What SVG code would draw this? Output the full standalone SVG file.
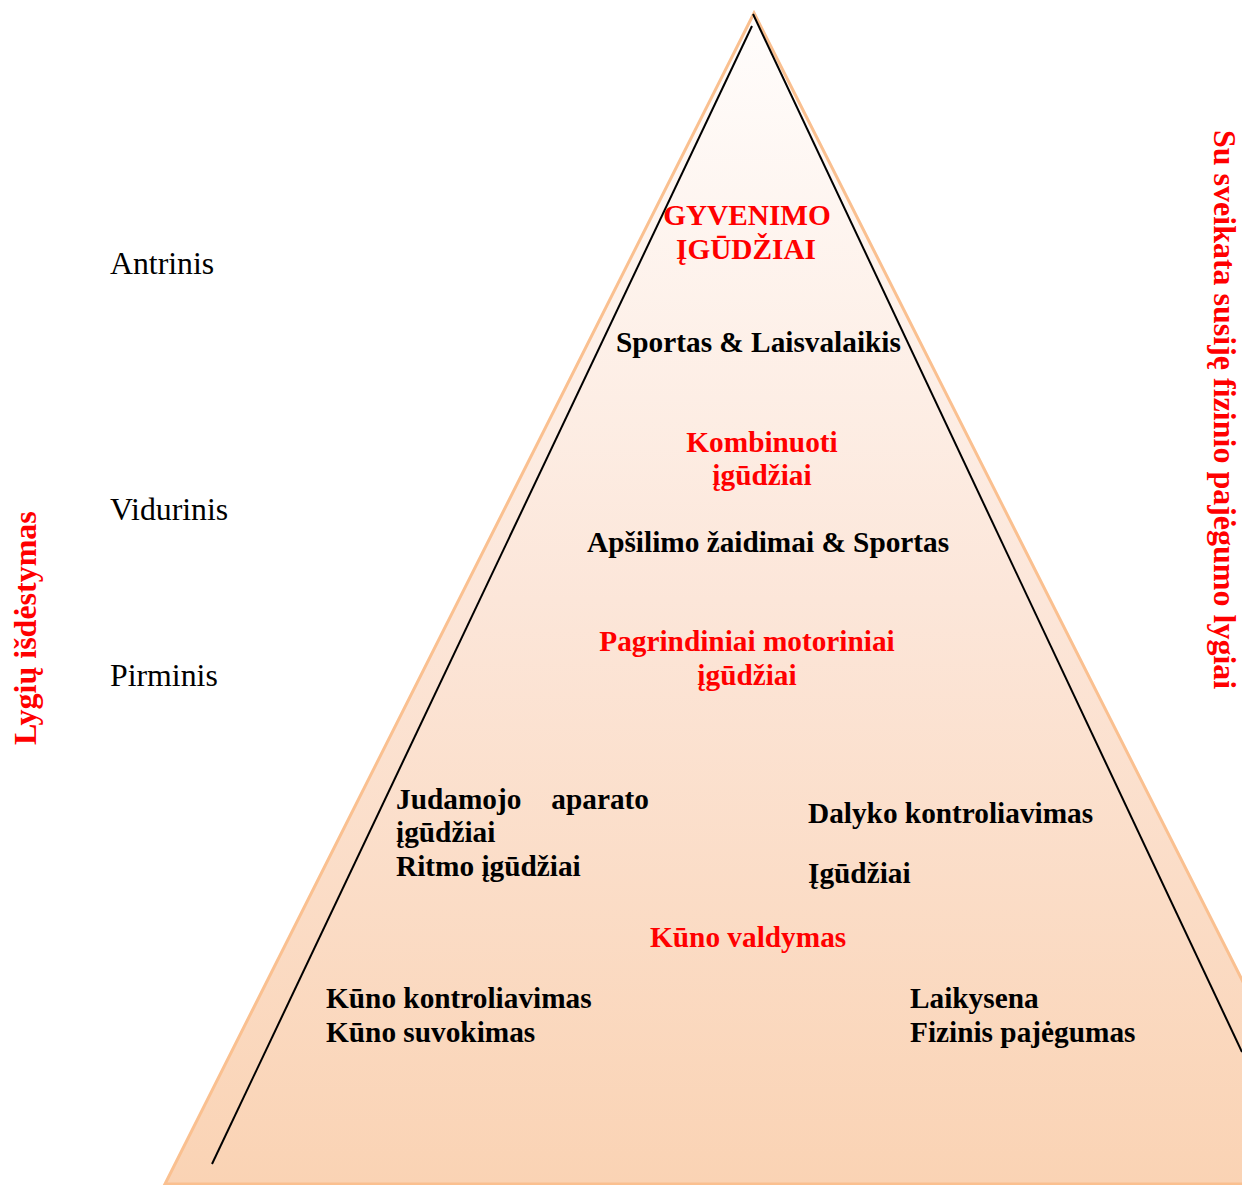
<svg xmlns="http://www.w3.org/2000/svg" width="1242" height="1185" viewBox="0 0 1242 1185">
<defs>
<linearGradient id="fillG" x1="0" y1="14" x2="0" y2="1185" gradientUnits="userSpaceOnUse">
<stop offset="0" stop-color="#FFFDFC"/>
<stop offset="0.5" stop-color="#FCE6D9"/>
<stop offset="1" stop-color="#FAD3B4"/>
</linearGradient>
<style>
.b{font-family:"Liberation Serif","Times New Roman",serif;font-weight:bold;font-size:29.3px;fill:#000}
.r{font-family:"Liberation Serif","Times New Roman",serif;font-weight:bold;font-size:29.3px;fill:#FF0000}
.n{font-family:"Liberation Serif","Times New Roman",serif;font-size:31.8px;fill:#000}
.v{font-family:"Liberation Serif","Times New Roman",serif;font-weight:bold;font-size:32px;fill:#FF0000}
.m{text-anchor:middle}
.ln{stroke:#000;stroke-width:2;fill:none}
</style>
</defs>
<rect width="1242" height="1185" fill="#FFFFFF"/>
<g id="pyramid">
<polygon points="754,13 1345,1184 165,1184" fill="url(#fillG)" stroke="#FAC090" stroke-width="3"/>
</g>
<g id="connectors">
<line class="ln" x1="752" y1="26" x2="212" y2="1164"/>
<line class="ln" x1="753" y1="14" x2="1242" y2="1052"/>
</g>
<g id="level-labels">
<text class="n" x="110" y="274">Antrinis</text>
<text class="n" x="110" y="520">Vidurinis</text>
<text class="n" x="110" y="686">Pirminis</text>
</g>
<g id="axis-left">
<text class="v" transform="translate(36,745) rotate(-90)">Lygių išdėstymas</text>
</g>
<g id="axis-right">
<text class="v" transform="translate(1214,130) rotate(90)">Su sveikata susiję fizinio pajėgumo lygiai</text>
</g>
<g id="node-gyvenimo">
<text class="r m" x="747" y="225">GYVENIMO</text>
<text class="r m" x="746" y="259">ĮGŪDŽIAI</text>
</g>
<g id="node-sportas">
<text class="b" x="616" y="352">Sportas &amp; Laisvalaikis</text>
</g>
<g id="node-kombinuoti">
<text class="r m" x="762" y="452">Kombinuoti</text>
<text class="r m" x="762" y="485">įgūdžiai</text>
</g>
<g id="node-apsilimo">
<text class="b" x="587" y="552">Apšilimo žaidimai &amp; Sportas</text>
</g>
<g id="node-pagrindiniai">
<text class="r m" x="747" y="651">Pagrindiniai motoriniai</text>
<text class="r m" x="747" y="685">įgūdžiai</text>
</g>
<g id="node-judamojo">
<text class="b" x="396" y="809">Judamojo</text>
<text class="b" x="649" y="809" text-anchor="end">aparato</text>
<text class="b" x="396" y="842">įgūdžiai</text>
<text class="b" x="396" y="876">Ritmo įgūdžiai</text>
</g>
<g id="node-dalyko">
<text class="b" x="808" y="823">Dalyko kontroliavimas</text>
<text class="b" x="808" y="883">Įgūdžiai</text>
</g>
<g id="node-kuno-valdymas">
<text class="r" x="650" y="947">Kūno valdymas</text>
</g>
<g id="node-kuno">
<text class="b" x="326" y="1008">Kūno kontroliavimas</text>
<text class="b" x="326" y="1042">Kūno suvokimas</text>
</g>
<g id="node-laikysena">
<text class="b" x="910" y="1008">Laikysena</text>
<text class="b" x="910" y="1042">Fizinis pajėgumas</text>
</g>
</svg>
